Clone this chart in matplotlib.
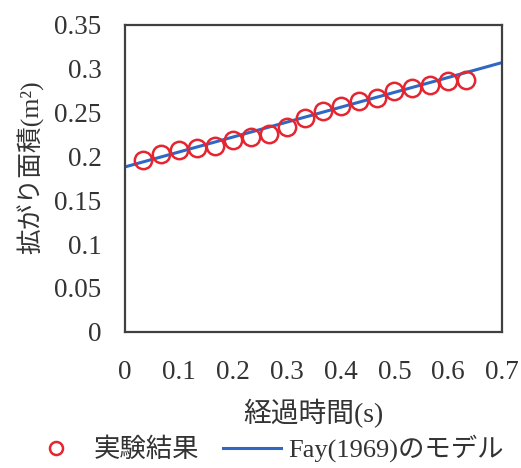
import matplotlib
matplotlib.use('Agg')
import matplotlib.pyplot as plt

plt.rcParams['font.family'] = ['Liberation Serif', 'Noto Sans CJK JP']

## measured spreading area, one frame every 1/30 s
t_exp = [k / 30 for k in range(1, 20)]
area_exp = [0.196, 0.203, 0.207, 0.209, 0.212, 0.219, 0.222, 0.226, 0.234, 0.244,
            0.252, 0.257, 0.263, 0.267, 0.275, 0.278, 0.281, 0.286, 0.287]

## Fay (1969) model
t_model = [0.0, 0.7]
area_model = [0.188, 0.307]

xticks = [0, 0.1, 0.2, 0.3, 0.4, 0.5, 0.6, 0.7]
yticks = [0, 0.05, 0.1, 0.15, 0.2, 0.25, 0.3, 0.35]

red = '#e52530'
blue = '#2f68c4'
txt = '#333333'

fig = plt.figure(figsize=(5.21, 4.68), dpi=100)
ax = fig.add_axes([0.240, 0.291, 0.724, 0.656])

ax.plot(t_model, area_model, color=blue, lw=2.2, label='Fay(1969)のモデル', zorder=2)
ax.plot(t_exp, area_exp, 'o', ms=12.5, mfc='none', mec=red, mew=1.8, label='実験結果', zorder=3)

ax.set_xlim(0, 0.7)
ax.set_ylim(0, 0.35)
ax.set_xticks(xticks)
ax.set_xticklabels(['0' if v == 0 else f'{v:g}' for v in xticks])
ax.set_yticks(yticks)
ax.set_yticklabels(['0' if v == 0 else f'{v:g}' for v in yticks])
ax.tick_params(length=0, labelsize=19.5, colors=txt)
ax.tick_params(axis='y', pad=17)
ax.tick_params(axis='x', pad=20)
for s in ax.spines.values():
    s.set_color('#404040')
    s.set_linewidth(1.6)

ax.set_xlabel('経過時間(s)', fontsize=20, color=txt)
ax.xaxis.set_label_coords(0.5, -0.22)
ax.set_ylabel('拡がり面積(m²)', fontsize=18.5, color=txt)
ax.yaxis.set_label_coords(-0.215, 0.537)

h, l = ax.get_legend_handles_labels()
fig.legend(h[::-1], l[::-1], loc='center', bbox_to_anchor=(0.51, 0.042), ncol=2,
           frameon=False, fontsize=19, handlelength=2.2, columnspacing=0.9,
           handletextpad=0.3, markerscale=0.75, labelcolor=txt,
           borderpad=0.1)

fig.savefig('out.png', dpi=100)
